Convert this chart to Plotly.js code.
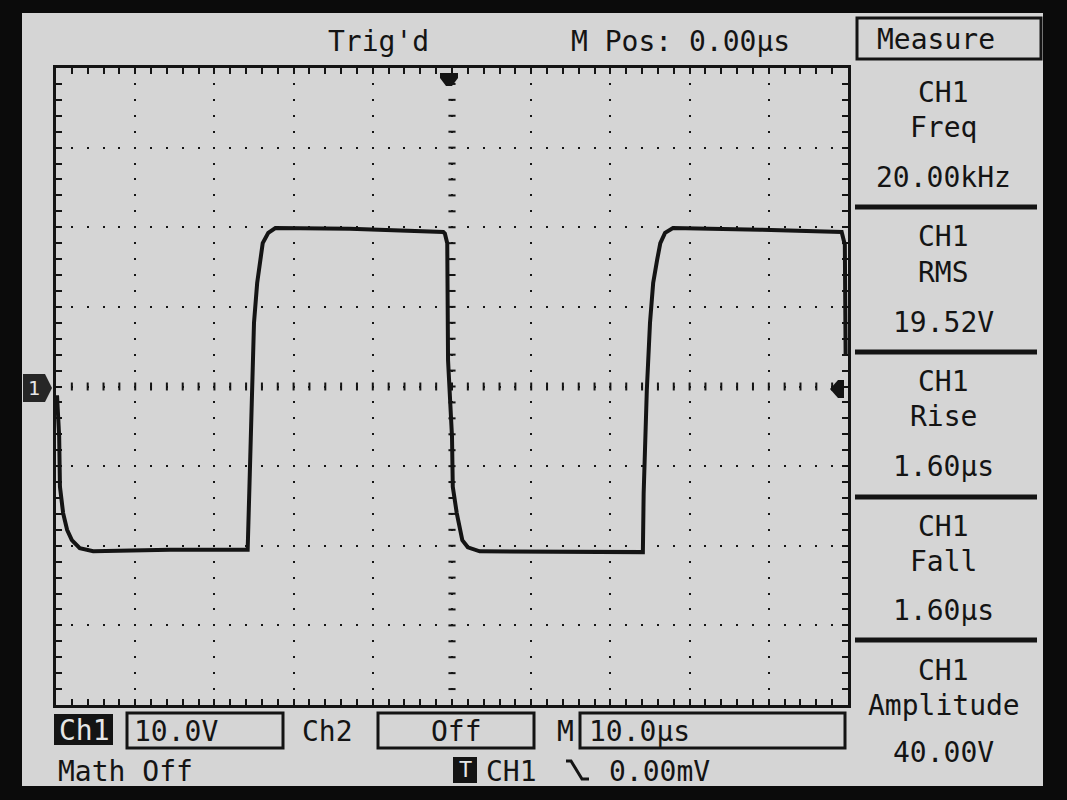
<!DOCTYPE html>
<html>
<head>
<meta charset="utf-8">
<script src="https://cdn.plot.ly/plotly-3.0.1.min.js"></script>
<style>
html,body{margin:0;padding:0;background:#0b0b0b;}
#chart{width:1067px;height:800px;}
</style>
</head>
<body>
<div id="chart"></div>
<script>
// ---- data (CH1, 10 V/div, 10 µs/div) ----
const timeUs = [-49.87,-49.6,-49.5,-49.1,-48.6,-48.0,-47.0,-45.3,-35.6,-25.8,
  -25.6,-25.3,-25.0,-24.6,-24.2,-23.9,-23.2,-22.3,-12.9,-1.1,
  -0.9,-0.6,-0.5,0.0,0.1,0.6,1.3,2.0,3.5,13.6,
  24.1,24.2,24.6,25.0,25.4,25.9,26.3,26.9,27.9,38.9,
  49.2,49.6,49.7];
const voltsV = [-1.1,-6.3,-12.6,-15.9,-18.0,-19.3,-20.3,-20.7,-20.5,-20.5,
  -13.4,-0.4,8.0,13.0,15.9,18.0,19.3,19.9,19.8,19.4,
  19.2,18.0,3.3,-6.3,-12.6,-15.9,-19.3,-20.2,-20.7,-20.7,
  -20.8,-13.4,-0.4,8.0,13.0,15.9,18.0,19.3,19.9,19.7,
  19.4,17.8,4.0];

const topLabels = ["Trig'd", "M Pos: 0.00\u00b5s", "Measure"];
const measureSource = ["CH1","CH1","CH1","CH1","CH1"];
const measureNames = ["Freq","RMS","Rise","Fall","Amplitude"];
const measureValues = ["20.00kHz","19.52V","1.60\u00b5s","1.60\u00b5s","40.00V"];
const statusLabels = ["Ch1","10.0V","Ch2","Off","M","10.0\u00b5s","Math Off","T","CH1","0.00mV"];
const channelMark = "1";

// ---- geometry helpers (pixel -> paper) ----
const W = 1067, H = 800;
const L = 56, R = 848, T = 68, B = 705;
const px = x => (x - L) / (R - L);
const py = y => (B - y) / (B - T);
const INK = '#141414';
const SCREEN = '#d5d5d5';
const FONT = "'DejaVu Sans Mono', 'Liberation Mono', monospace";

const shapes = [];
const annotations = [];

// screen background
shapes.push({type:'rect', xref:'paper', yref:'paper', layer:'below',
  x0:px(22), x1:px(1043), y0:py(786), y1:py(13), fillcolor:SCREEN, line:{width:0}});

// center cross marks
for (let k = 1; k < 40; k++) {
  const v = -40 + 2 * k;
  shapes.push({type:'line', xref:'x', yref:'y', layer:'above',
    x0:-0.45, x1:0.45, y0:v, y1:v, line:{color:INK, width:2}});
}
for (let k = 1; k < 50; k++) {
  const t = -50 + 2 * k;
  shapes.push({type:'line', xref:'x', yref:'y', layer:'above',
    x0:t, x1:t, y0:-0.5, y1:0.5, line:{color:INK, width:2}});
}

// channel 1 marker (left)
shapes.push({type:'path', xref:'paper', yref:'paper', layer:'above',
  path:`M ${px(23)},${py(374)} L ${px(45)},${py(374)} L ${px(52)},${py(388)} L ${px(45)},${py(402)} L ${px(23)},${py(402)} Z`,
  fillcolor:'#262626', line:{width:0}});
annotations.push({xref:'paper', yref:'paper', x:px(34), y:py(388), text:channelMark, showarrow:false,
  font:{family:FONT, size:20, color:'#e6e6e6'}, xanchor:'center', yanchor:'middle'});

// trigger position marker (top)
shapes.push({type:'path', xref:'paper', yref:'paper', layer:'above',
  path:`M ${px(440)},${py(73)} L ${px(458)},${py(73)} L ${px(458)},${py(78)} L ${px(452)},${py(86)} L ${px(446)},${py(86)} L ${px(440)},${py(78)} Z`,
  fillcolor:INK, line:{width:0}});
// trigger level marker (right)
shapes.push({type:'path', xref:'paper', yref:'paper', layer:'above',
  path:`M ${px(830)},${py(389)} L ${px(838)},${py(380)} L ${px(844)},${py(380)} L ${px(844)},${py(398)} L ${px(838)},${py(398)} Z`,
  fillcolor:INK, line:{width:0}});

// Measure box
shapes.push({type:'rect', xref:'paper', yref:'paper', layer:'above',
  x0:px(857), x1:px(1041), y0:py(59), y1:py(18), line:{color:INK, width:3}});
// panel dividers
[207, 352, 497, 640].forEach(y => shapes.push({type:'line', xref:'paper', yref:'paper', layer:'above',
  x0:px(855), x1:px(1037), y0:py(y), y1:py(y), line:{color:INK, width:5}}));

// status boxes
shapes.push({type:'rect', xref:'paper', yref:'paper', layer:'above',
  x0:px(54), x1:px(113), y0:py(745), y1:py(714), fillcolor:INK, line:{width:0}});
[[127,283],[378,534],[580,845]].forEach(([a,b]) => shapes.push({type:'rect', xref:'paper', yref:'paper', layer:'above',
  x0:px(a), x1:px(b), y0:py(748), y1:py(713), line:{color:INK, width:3}}));
shapes.push({type:'rect', xref:'paper', yref:'paper', layer:'above',
  x0:px(453), x1:px(477), y0:py(783), y1:py(757), fillcolor:INK, line:{width:0}});
// falling edge symbol
shapes.push({type:'path', xref:'paper', yref:'paper', layer:'above',
  path:`M ${px(566)},${py(761)} L ${px(571)},${py(761)} L ${px(582)},${py(779)} L ${px(589)},${py(779)}`,
  line:{color:INK, width:3}});

function txt(text, x, y, size, anchor, color) {
  annotations.push({xref:'paper', yref:'paper', x:px(x), y:py(y), text:text, showarrow:false,
    xanchor:anchor || 'center', yanchor:'middle',
    font:{family:FONT, size:size || 28, color:color || INK}});
}

// top bar
txt(topLabels[0], 378, 41, 28);
txt(topLabels[1], 680, 41, 28);
txt(topLabels[2], 936, 40, 28);

// measurement panel
const rowsY = [[92,128,177],[237,272,322],[381,417,466],[526,561,610],[670,706,752]];
for (let i = 0; i < measureNames.length; i++) {
  txt(measureSource[i], 944, rowsY[i][0], 28);
  txt(measureNames[i], 944, rowsY[i][1], 28);
  txt(measureValues[i], 943, rowsY[i][2], 28);
}

// status bar
txt(statusLabels[0], 84, 730, 28, 'center', '#e6e6e6');
txt(statusLabels[1], 132, 731, 28, 'left');
txt(statusLabels[2], 327, 731, 28);
txt(statusLabels[3], 456, 731, 28);
txt(statusLabels[4], 565, 731, 28);
txt(statusLabels[5], 587, 731, 28, 'left');
txt(statusLabels[6], 56, 771, 28, 'left');
txt(statusLabels[7], 465, 770, 22, 'center', '#e6e6e6');
txt(statusLabels[8], 511, 771, 28);
txt(statusLabels[9], 659, 771, 28);

const axisCommon = {
  showgrid:true, gridcolor:INK, gridwidth:2,
  zeroline:false, showline:true, linecolor:INK, linewidth:3, mirror:'ticks',
  ticks:'inside', ticklen:6, tickwidth:2, tickcolor:INK, tick0:0, dtick:10,
  showticklabels:false, fixedrange:true,
  minor:{dtick:2, ticks:'inside', ticklen:6, tickwidth:2, tickcolor:INK, showgrid:false}
};

const layout = {
  width:W, height:H,
  margin:{l:L, r:W-R, t:T, b:H-B, pad:0},
  paper_bgcolor:'#0b0b0b', plot_bgcolor:'rgba(0,0,0,0)',
  showlegend:false,
  xaxis:Object.assign({}, axisCommon, {range:[-50,50], griddash:'1px,13.925px,1px,0px'}),
  yaxis:Object.assign({}, axisCommon, {range:[-40,40], griddash:'1px,13.84px,1px,0px'}),
  shapes:shapes,
  annotations:annotations
};

const trace = {
  x:timeUs, y:voltsV, type:'scatter', mode:'lines',
  line:{color:INK, width:4}, hoverinfo:'skip', cliponaxis:true
};

Plotly.newPlot('chart', [trace], layout, {displayModeBar:false, staticPlot:true});
</script>
</body>
</html>
